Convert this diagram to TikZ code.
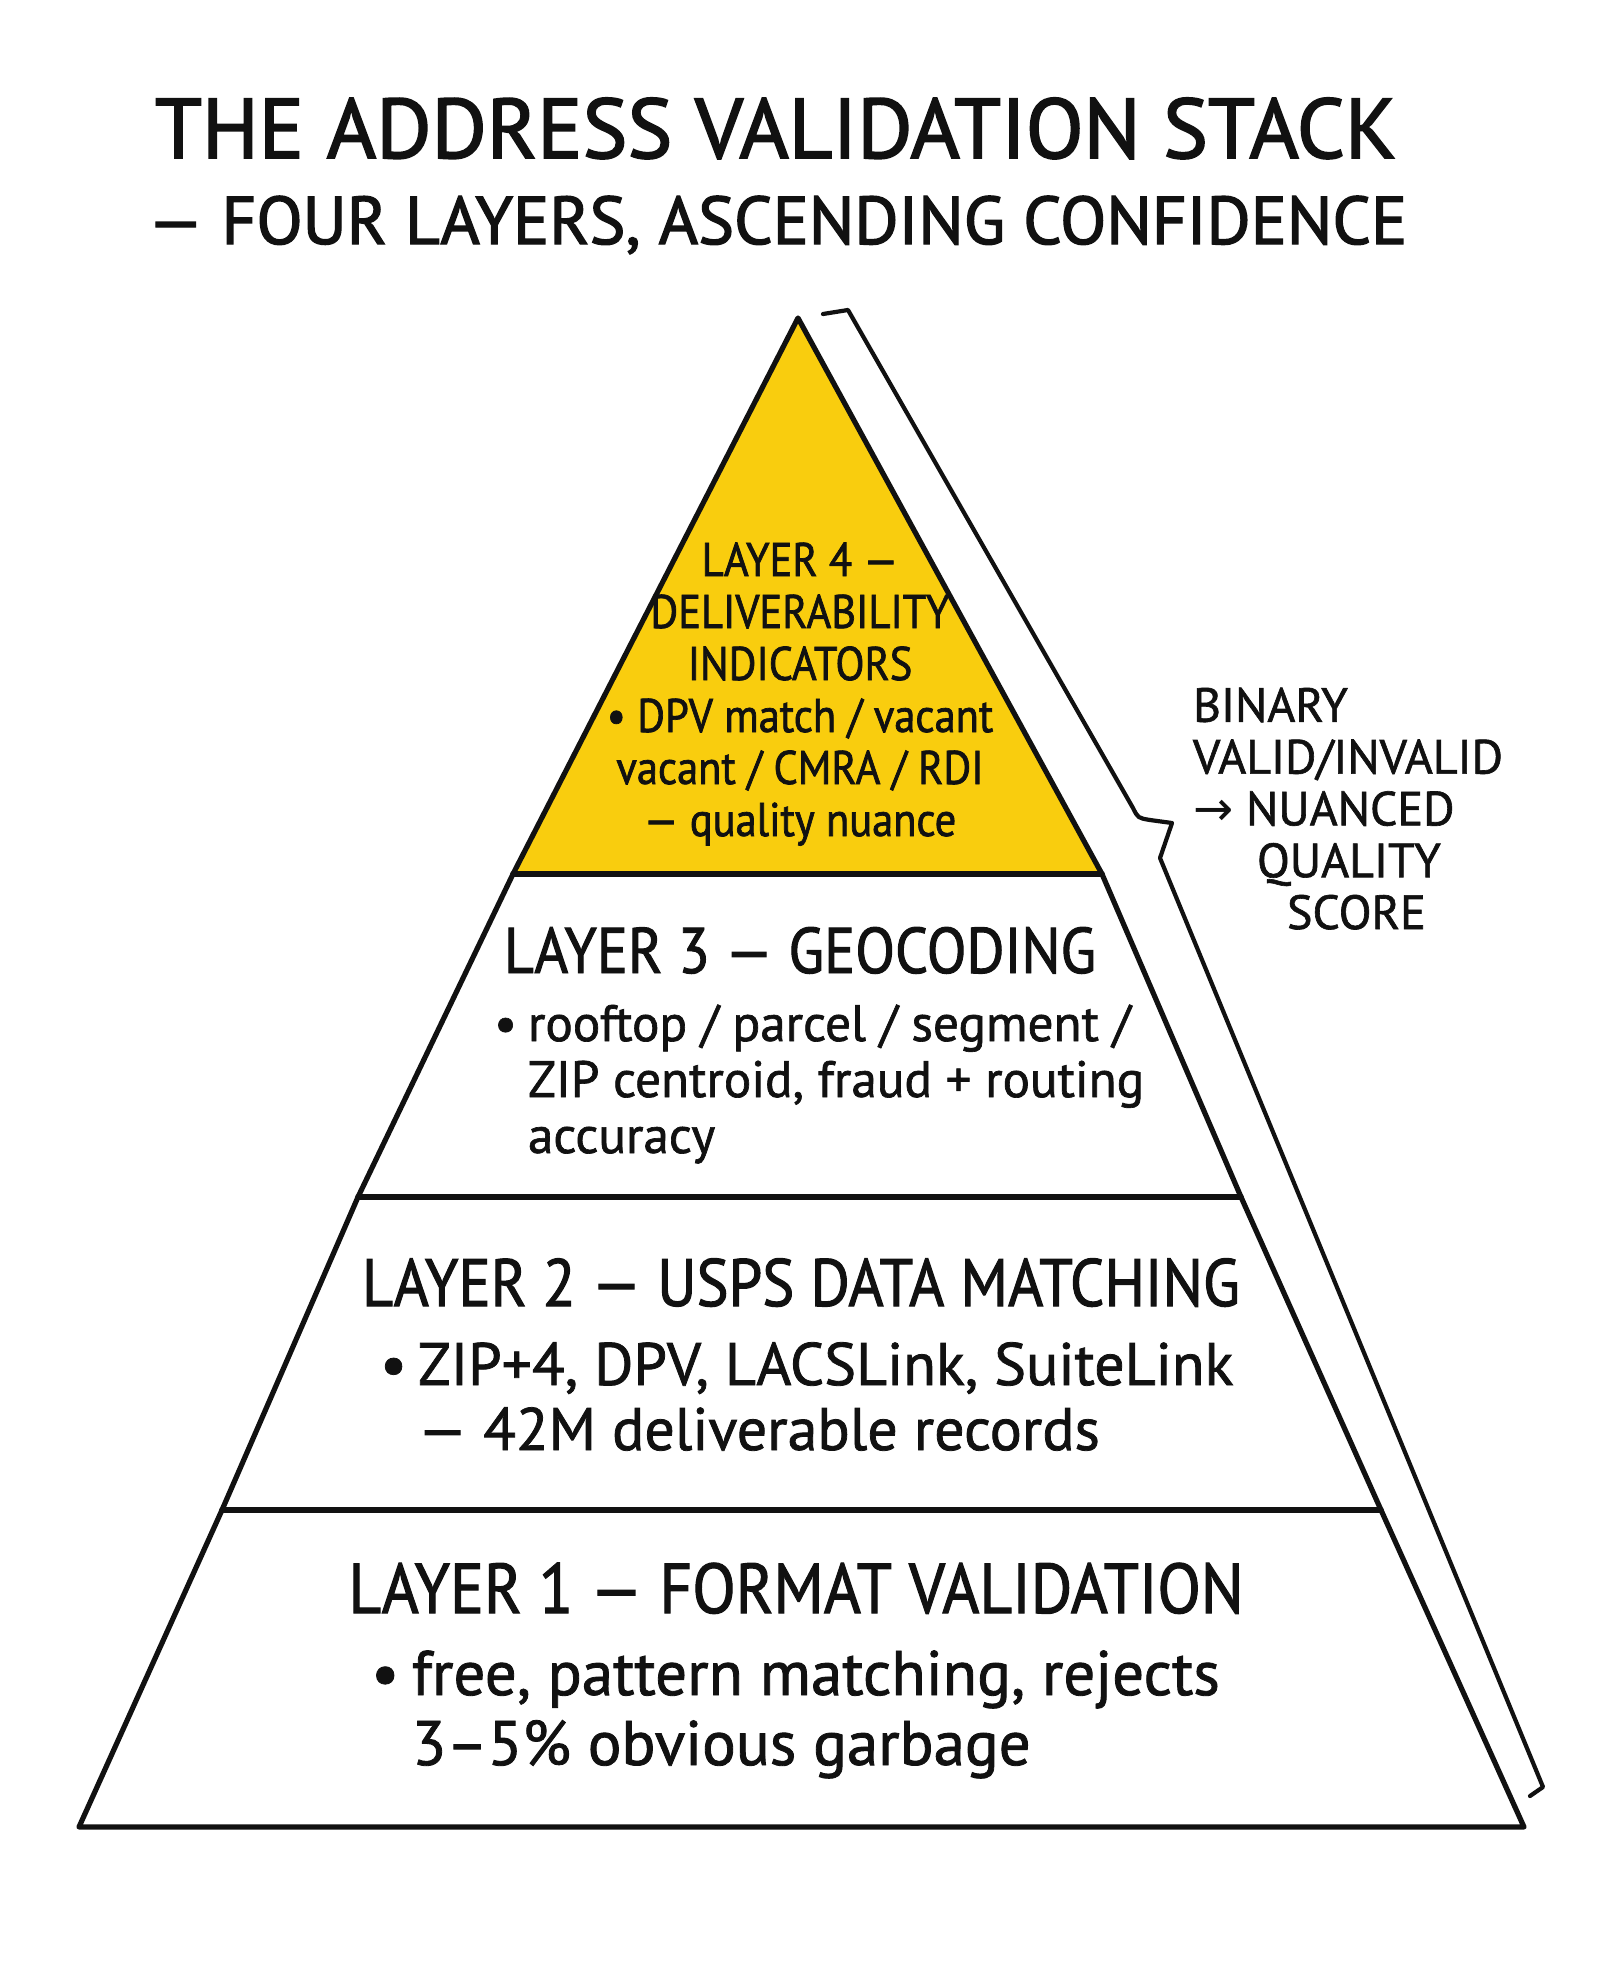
\documentclass[tikz,border=0pt]{standalone}
\usepackage{fontspec}
\setmainfont[FakeBold=1.3]{PT Sans}
\newfontfamily\headfont[FakeStretch=0.9, FakeBold=1.5]{PT Sans}
\newfontfamily\titlefont[FakeBold=2]{PT Sans}
\newfontfamily\arrowfont{DejaVu Sans}
\definecolor{ink}{RGB}{17,17,17}
\definecolor{layerfour}{RGB}{249,205,14}
\newcommand\bulletbox[1]{\makebox[#1][l]{•}}
\newcommand\hang[1]{\hspace*{#1}}
\begin{document}
\begin{tikzpicture}[x=0.5pt,y=-0.5pt,
  outline/.style={draw=ink, line width=2.6pt, line join=round, line cap=round},
  divider/.style={draw=ink, line width=2.8pt, line cap=round},
  bracketline/.style={draw=ink, line width=2.1pt, line join=round, line cap=round},
  txt/.style={text=ink, inner sep=0pt, outer sep=0pt},
  heading/.style={txt, anchor=base},
  body/.style={txt, anchor=base west, align=left}]
\useasboundingbox (0,0) rectangle (1600,1986);
\fill[white] (0,0) rectangle (1600,1986);

% title
\node[txt, anchor=base west, font=\titlefont\fontsize{42.3}{44}\selectfont] (title)
  at (155,158) {THE ADDRESS VALIDATION STACK};
\node[txt, anchor=base west, font=\titlefont\fontsize{33.8}{36}\selectfont] (subtitle)
  at (148,244) {— FOUR LAYERS, ASCENDING CONFIDENCE};

% pyramid corners
\coordinate (apex) at (798,318);
\coordinate (l4) at (513,874);  \coordinate (r4) at (1102,874);
\coordinate (l3) at (358,1197); \coordinate (r3) at (1241,1197);
\coordinate (l2) at (222,1510); \coordinate (r2) at (1381,1510);
\coordinate (l1) at (79,1827);  \coordinate (r1) at (1524,1827);

\fill[layerfour] (apex) -- (l4) -- (r4) -- cycle;
\draw[outline] (l1) -- (l2) -- (l3) -- (l4) -- (apex) -- (r4) -- (r3) -- (r2) -- (r1) -- cycle;
\draw[divider] (l4) -- (r4);
\draw[divider] (l3) -- (r3);
\draw[divider] (l2) -- (r2);

% side bracket
\coordinate (b0) at (823,314);
\coordinate (b1) at (848,310);
\coordinate (b2) at (1133,808);
\coordinate (b3) at (1150,820);
\coordinate (b4) at (1172,823);
\coordinate (b5) at (1160,858);
\coordinate (b6) at (1543,1787);
\coordinate (b7) at (1530,1796);
\draw[bracketline] (b0) -- (b1) -- (b2) .. controls (1138,818) .. (b3) -- (b4) -- (b5) -- (b6) -- (b7);

% layer 4 (the anchor sits on the last line's baseline)
\node[heading, align=center, font=\headfont\fontsize{23.6}{26}\selectfont] (layer4) at (800,836)
  {LAYER 4 —\\DELIVERABILITY\\INDICATORS\\• DPV match / vacant\\vacant / CMRA / RDI\\— quality nuance};

% layer 3
\node[heading, font=\headfont\fontsize{32.3}{34}\selectfont] (layer3) at (800,973) {LAYER 3 — GEOCODING};
\node[body, font=\fontsize{25.6}{28}\selectfont] (layer3b) at (494,1153)
  {\bulletbox{17pt}rooftop / parcel / segment /\\\hang{17pt}ZIP centroid, fraud + routing\\\hang{17pt}accuracy};

% layer 2
\node[heading, font=\headfont\fontsize{33.5}{35}\selectfont] (layer2) at (801,1306) {LAYER 2 — USPS DATA MATCHING};
\node[body, font=\fontsize{30}{32.5}\selectfont] (layer2b) at (380,1450)
  {\bulletbox{19pt}ZIP+4, DPV, LACSLink, SuiteLink\\\hang{19pt}— 42M deliverable records};

% layer 1
\node[heading, font=\headfont\fontsize{35.3}{37}\selectfont] (layer1) at (796,1613) {LAYER 1 — FORMAT VALIDATION};
\node[body, font=\fontsize{31.5}{35}\selectfont] (layer1b) at (371,1765)
  {\bulletbox{20.5pt}free, pattern matching, rejects\\\hang{20.5pt}3–5\% obvious garbage};

% side note
\node[body, font=\fontsize{24}{25.9}\selectfont] (note) at (1193,929)
  {BINARY\\VALID/INVALID\\{\arrowfont →} NUANCED\\\hang{32pt}QUALITY\\\hang{47pt}SCORE};
\end{tikzpicture}
\end{document}
